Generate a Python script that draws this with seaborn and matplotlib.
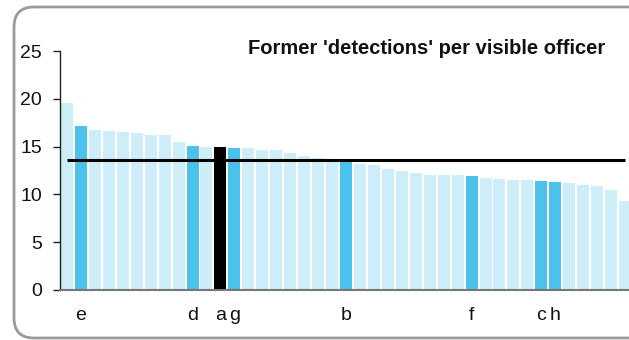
import matplotlib
matplotlib.use("Agg")
import matplotlib.pyplot as plt
from matplotlib.patches import FancyBboxPatch
import seaborn as sns
import pandas as pd

# Detections per visible officer, one bar per force, sorted high to low
values = [19.6, 17.2, 16.7, 16.6, 16.5, 16.4, 16.2, 16.2, 15.5, 15.1,
          15.0, 14.95, 14.9, 14.85, 14.65, 14.6, 14.3, 14.0, 13.8, 13.5,
          13.4, 13.15, 13.1, 12.7, 12.5, 12.25, 12.05, 12.0, 12.0, 11.9,
          11.7, 11.6, 11.55, 11.5, 11.45, 11.25, 11.2, 11.0, 10.9, 10.45,
          9.3]
# Letter shown under highlighted forces ("" for the rest)
labels = ["", "e", "", "", "", "", "", "", "", "d",
          "", "a", "g", "", "", "", "", "", "", "",
          "b", "", "", "", "", "", "", "", "", "f",
          "", "", "", "", "c", "h", "", "", "", "",
          ""]
# Bar style: 0 = other force, 1 = highlighted force, 2 = selected force
kinds = [0, 1, 0, 0, 0, 0, 0, 0, 0, 1,
         0, 2, 1, 0, 0, 0, 0, 0, 0, 0,
         1, 0, 0, 0, 0, 0, 0, 0, 0, 1,
         0, 0, 0, 0, 1, 1, 0, 0, 0, 0,
         0]
average = 13.6
title = "Former 'detections' per visible officer"

kind_colors = {0: "#cdedf8", 1: "#4bc2ec", 2: "#000000"}

df = pd.DataFrame({
    "pos": [str(i) for i in range(len(values))],
    "value": values,
    "kind": kinds,
})
palette = {p: kind_colors[k] for p, k in zip(df["pos"], df["kind"])}

sns.set_style("white")
plt.rcParams["font.family"] = ["Liberation Sans", "DejaVu Sans"]

fig = plt.figure(figsize=(6.29, 3.40), dpi=100)
ax = fig.add_axes([60 / 629, 50 / 340, 572 / 629, 239 / 340])

sns.barplot(data=df, x="pos", y="value", hue="pos", palette=palette,
            width=0.86, legend=False, ax=ax, saturation=1, linewidth=0)

ax.plot([0, len(values) - 1], [average, average], color="black", lw=2.2,
        solid_capstyle="butt", zorder=5)

ax.set_xlim(-0.5, len(values) - 0.5)
ax.set_ylim(0, 25)
ax.set_yticks([0, 5, 10, 15, 20, 25])
ax.set_xticks(range(len(values)))
ax.set_xticklabels(labels)
ax.set_xlabel("")
ax.set_ylabel("")
ax.tick_params(axis="y", which="both", left=True, length=5, width=1,
               color="#222222", labelsize=14, pad=8, labelcolor="#111111")
ax.tick_params(axis="x", bottom=False, labelsize=14, pad=9,
               labelcolor="#111111")
for side in ("top", "right"):
    ax.spines[side].set_visible(False)
ax.spines["left"].set_color("#222222")
ax.spines["left"].set_linewidth(1)
ax.spines["bottom"].set_color("#777777")
ax.spines["bottom"].set_linewidth(1.5)

fig.text(427 / 629, 1 - 48 / 340, title, ha="center", va="center",
         fontsize=14.5, fontweight="bold", color="#111111")

# Rounded panel border, laid out in inches (100 px per inch)
frame = FancyBboxPatch((0.14, 0.02), 6.5, 3.31,
                       boxstyle="round,pad=0,rounding_size=0.2",
                       transform=fig.dpi_scale_trans, fill=False,
                       edgecolor="#9a9a9a", linewidth=2, clip_on=False)
fig.patches.append(frame)

fig.savefig("out.png", dpi=100)
